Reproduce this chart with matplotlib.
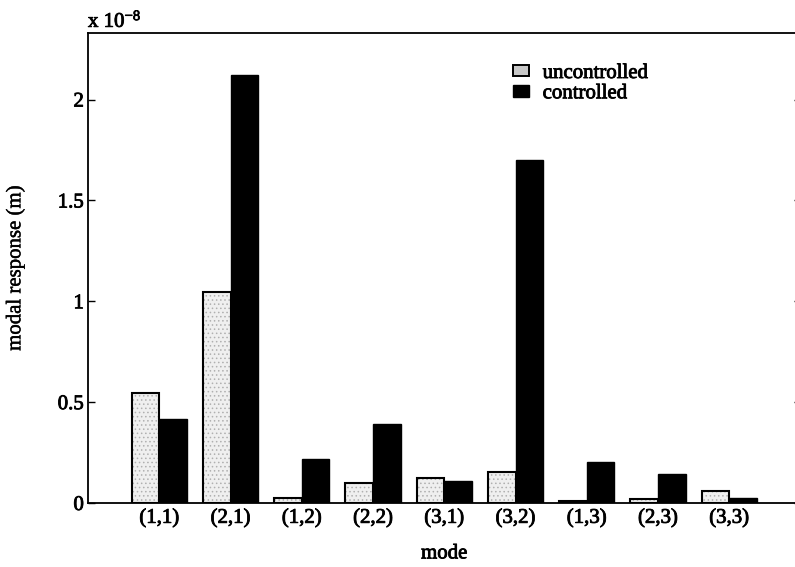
import matplotlib
matplotlib.use("Agg")
import matplotlib.pyplot as plt
import matplotlib.patheffects as pe
from matplotlib.patches import Patch
import numpy as np

# Modal response amplitudes, in units of 1e-8 m
modes = ["(1,1)", "(2,1)", "(1,2)", "(2,2)", "(3,1)", "(3,2)", "(1,3)", "(2,3)", "(3,3)"]
uncontrolled = [0.547, 1.044, 0.027, 0.098, 0.126, 0.155, 0.008, 0.021, 0.060]
controlled = [0.417, 2.12, 0.217, 0.392, 0.110, 1.70, 0.203, 0.142, 0.025]
ytick_vals = [0, 0.5, 1, 1.5, 2]
ytick_labels = ["0", "0.5", "1", "1.5", "2"]

plt.rcParams["font.family"] = ["Liberation Serif", "DejaVu Serif"]
plt.rcParams["hatch.linewidth"] = 0.6

heavy = [pe.withStroke(linewidth=0.6, foreground="black")]
light = [pe.withStroke(linewidth=0.3, foreground="black")]
FS = 15

fig = plt.figure(figsize=(7.95, 5.67), dpi=100)
ax = fig.add_axes([88 / 795, 64 / 567, 712.5 / 795, 470 / 567])

x = np.arange(1, len(modes) + 1)
w = 0.386

# light stippled fill for the uncontrolled bars, then a black outline on top
ax.bar(x - w / 2, uncontrolled, width=w, color="#efefef", linewidth=0, zorder=2)
ax.bar(x - w / 2, uncontrolled, width=w, fill=False, hatch="....",
       edgecolor="#b0b0b0", linewidth=0, zorder=3)
ax.bar(x - w / 2, uncontrolled, width=w, fill=False, edgecolor="black",
       linewidth=1.5, zorder=4)
ax.bar(x + w / 2, controlled, width=w, color="black", edgecolor="black",
       linewidth=1.0, zorder=4)

ax.set_xlim(0, 10)
ax.set_ylim(0, 2.33)
ax.set_xticks(x)
ax.set_xticklabels(modes, fontsize=FS)
ax.set_yticks(ytick_vals)
ax.set_yticklabels(ytick_labels, fontsize=FS)
ax.tick_params(axis="y", direction="in", length=5, width=1.0, pad=3,
               left=True, right=True)
ax.tick_params(axis="x", length=0, pad=4)
for lab in ax.get_xticklabels() + ax.get_yticklabels():
    lab.set_path_effects(heavy)

for s in ax.spines.values():
    s.set_linewidth(1.3)

ax.set_xlabel("mode", fontsize=FS, path_effects=heavy)
ax.set_ylabel("modal response (m)", fontsize=FS, path_effects=light)
ax.xaxis.set_label_coords(0.5, -0.088)
ax.yaxis.set_label_coords(-0.088, 0.5)
ax.text(0.0, 1.013, r"x $\mathregular{10^{-8}}$", transform=ax.transAxes,
        fontsize=FS, ha="left", va="baseline", path_effects=heavy)

handles = [
    Patch(facecolor="#c8c8c8", edgecolor="black", linewidth=1.4, label="uncontrolled"),
    Patch(facecolor="black", edgecolor="black", linewidth=1.0, label="controlled"),
]
leg = ax.legend(handles=handles, loc="upper left", bbox_to_anchor=(0.596, 0.934),
                frameon=False, fontsize=FS, handlelength=0.77, handleheight=0.48,
                handletextpad=0.67, labelspacing=0.06, borderpad=0, borderaxespad=0)
for t in leg.get_texts():
    t.set_path_effects(heavy)

fig.savefig("out.png", dpi=100)
